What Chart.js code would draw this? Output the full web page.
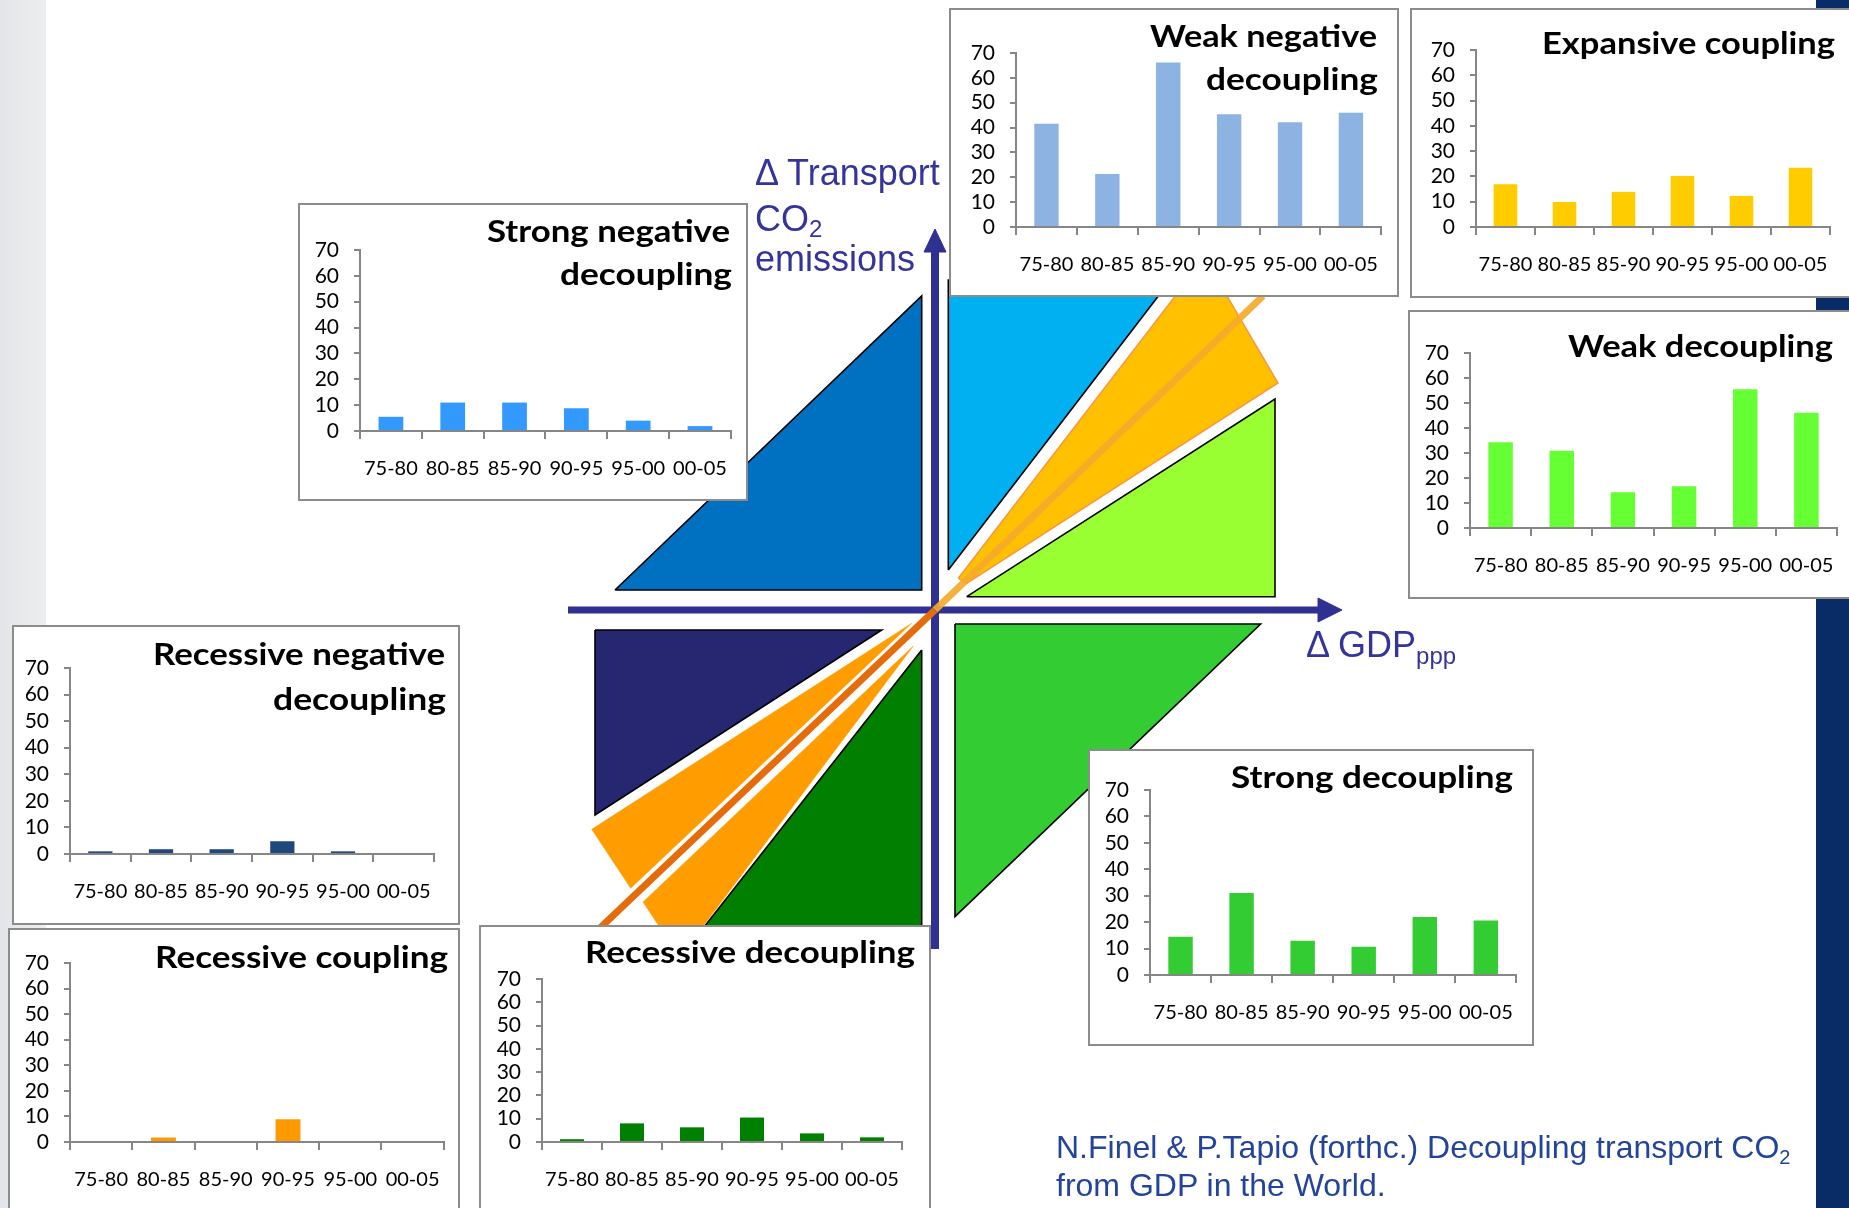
<!DOCTYPE html>
<html>
<head>
<meta charset="utf-8">
<title>Decoupling transport CO2 from GDP</title>
<script src="https://cdn.jsdelivr.net/npm/chart.js@4.4.1/dist/chart.umd.min.js"></script>
<style>
  html, body { margin: 0; padding: 0; }
  body { width: 1849px; height: 1208px; overflow: hidden; position: relative; background: #ffffff; }
  #leftStrip { position: absolute; left: 0; top: 0; width: 46px; height: 1208px; background: linear-gradient(90deg, #e3e5e8, #eceef0); }
  #rightBand { position: absolute; left: 1816px; top: 0; width: 33px; height: 1208px; background: #0a2c66; }
  #diagram { position: absolute; left: 560px; top: 220px; z-index: 1; }
  .panel { position: absolute; background: #ffffff; border: 2px solid #8c8c8c; box-sizing: border-box; z-index: 2; }
  .panel canvas { position: absolute; left: 0; top: 0; }
  #texts { position: absolute; left: 0; top: 0; z-index: 5; pointer-events: none; }
</style>
</head>
<body>
<div id="leftStrip"></div>
<div id="rightBand"></div>
<canvas id="diagram" width="800" height="740" style="width:800px;height:740px"></canvas>
<svg id="texts" width="1849" height="1208" xmlns="http://www.w3.org/2000/svg"></svg>

<script>
// ---- Share of countries per period in each decoupling class ----
const periods = ['75-80', '80-85', '85-90', '90-95', '95-00', '00-05'];
const strongNegativeDecoupling = [5.5, 11.0, 11.0, 8.8, 4.0, 1.9];
const weakNegativeDecoupling   = [41.5, 21.3, 66.2, 45.4, 42.1, 46.0];
const expansiveCoupling        = [16.9, 9.9, 13.9, 20.2, 12.3, 23.4];
const weakDecoupling           = [34.3, 30.9, 14.3, 16.7, 55.5, 46.1];
const recessiveNegativeDecoupling = [1.0, 1.8, 1.8, 4.8, 1.0, 0];
const recessiveCoupling        = [0, 1.8, 0, 8.9, 0, 0];
const recessiveDecoupling      = [1.2, 8.0, 6.3, 10.5, 3.7, 2.0];
const strongDecoupling         = [14.5, 31.0, 13.0, 10.7, 21.9, 20.6];
const shareAxisMax = 70;
const shareAxisStep = 10;

// ---- Decoupling map: regions in ΔGDP / ΔCO2 diagram units, origin where the axes cross ----
const regionStrongNegative   = [[-3.20, 0.20], [-0.133, 3.14], [-0.133, 0.20]];
const regionWeakNegative     = [[0.133, 0.40], [0.133, 3.30], [2.356, 3.30]];
const regionExpansive        = [[0.233, 0.317], [2.696, 3.521], [3.43, 2.27], [0.317, 0.267]];
const regionWeak             = [[0.317, 0.133], [3.40, 2.11], [3.40, 0.133]];
const regionStrong           = [[0.20, -0.14], [3.256, -0.14], [0.20, -3.067]];
const regionRecessiveNegative = [[-3.40, -0.20], [-0.533, -0.20], [-3.40, -2.05]];
const regionRecessive        = [[-0.133, -0.40], [-0.133, -3.40], [-2.49, -3.40]];
const regionRecessiveCouplingUpper = [[-0.233, -0.133], [-3.433, -2.193], [-3.043, -2.783]];
const regionRecessiveCouplingLower = [[-0.217, -0.36], [-2.92, -2.92], [-2.553, -3.475]];
const couplingLineGrowth   = [[0, 0], [3.28, 3.14]];
const couplingLineRecession = [[0, 0], [-3.35, -3.18]];
const gdpAxis   = [[-3.67, 0], [3.85, 0]];
const gdpArrow  = [[3.83, 0.12], [4.07, 0], [3.83, -0.12]];
const co2Axis   = [[0, -3.39], [0, 3.58]];
const co2Arrow  = [[-0.11, 3.58], [0, 3.81], [0.11, 3.58]];

Chart.defaults.font.family = 'Lato, "Liberation Sans", sans-serif';
Chart.defaults.color = '#000000';
Chart.defaults.animation = false;

// ---------- the decoupling map ----------
function toPts(list) { return list.map(([x, y]) => ({ x, y })); }
function polygon(list, fill, stroke, width) {
  return {
    data: toPts(list.concat([list[0]])),
    showLine: true, fill: 'shape', backgroundColor: fill,
    borderColor: stroke || fill, borderWidth: width || 0,
    borderJoinStyle: 'miter', pointRadius: 0, tension: 0
  };
}
function segment(list, color, width) {
  return { data: toPts(list), showLine: true, fill: false, borderColor: color,
           borderWidth: width, borderCapStyle: 'butt', pointRadius: 0, tension: 0 };
}

const AXIS_BLUE = '#2e3192';
const mapLayers = [
  polygon(regionStrongNegative, '#0070c0', '#000000', 1.6),
  polygon(regionWeakNegative, '#00b0f0', '#000000', 1.6),
  polygon(regionWeak, '#99ff33', '#000000', 1.6),
  polygon(regionStrong, '#33cc33', '#000000', 1.6),
  polygon(regionRecessiveNegative, '#262671', '#000000', 1.6),
  polygon(regionRecessive, '#007f00', '#000000', 1.6),
  polygon(regionExpansive, '#ffc000', '#f79646', 1.5),
  polygon(regionRecessiveCouplingUpper, '#ff9c00', '#ff9c00', 0.5),
  polygon(regionRecessiveCouplingLower, '#ff9c00', '#ff9c00', 0.5),
  segment(gdpAxis, AXIS_BLUE, 7),
  polygon(gdpArrow, AXIS_BLUE, AXIS_BLUE, 1),
  segment(co2Axis, AXIS_BLUE, 8),
  polygon(co2Arrow, AXIS_BLUE, AXIS_BLUE, 1),
  segment(couplingLineGrowth, 'rgba(244,170,45,0.92)', 7),
  segment(couplingLineRecession, '#e46c0a', 7)
];
// later layers are painted over earlier ones
mapLayers.forEach((d, i) => { d.order = mapLayers.length - i; });

new Chart(document.getElementById('diagram'), {
  type: 'scatter',
  data: { datasets: mapLayers },
  options: {
    responsive: false,
    animation: false,
    layout: { padding: 0 },
    plugins: { legend: { display: false }, tooltip: { enabled: false } },
    scales: {
      x: { type: 'linear', min: -3.75, max: 4.25, display: false },
      y: { type: 'linear', min: -3.5, max: 3.9, display: false }
    }
  }
});

// ---------- the eight class panels ----------
// box: [left, top, width, height]; plot: [axis left, top (70), right, bottom (0)]
const panels = [
  { values: strongNegativeDecoupling, color: '#3399ff', box: [298, 203, 450, 298], plot: [360, 250, 733, 431],
    title: [['Strong negative', 730, 241.7, 243], ['decoupling', 732, 285, 172]] },
  { values: weakNegativeDecoupling, color: '#8db3e2', box: [949, 8, 450, 289], plot: [1016, 53, 1383, 227],
    title: [['Weak negative', 1377, 46.7, 227], ['decoupling', 1378, 90, 172]] },
  { values: expansiveCoupling, color: '#ffcc00', box: [1410, 8, 460, 290], plot: [1476, 50, 1830, 227],
    title: [['Expansive coupling', 1835, 54, 293]] },
  { values: weakDecoupling, color: '#66ff33', box: [1408, 310, 460, 289], plot: [1470, 353, 1837, 528],
    title: [['Weak decoupling', 1833, 356.7, 265]] },
  { values: recessiveNegativeDecoupling, color: '#1f497d', box: [12, 625, 448, 300], plot: [70, 668, 434, 854],
    title: [['Recessive negative', 445, 665, 292], ['decoupling', 446, 710, 173]] },
  { values: recessiveCoupling, color: '#ff9900', box: [8, 928, 452, 300], plot: [70, 963, 452, 1142],
    title: [['Recessive coupling', 448, 968.3, 293]] },
  { values: recessiveDecoupling, color: '#008000', box: [479, 925, 452, 300], plot: [542, 979, 902, 1142],
    title: [['Recessive decoupling', 915, 962.7, 330]] },
  { values: strongDecoupling, color: '#33cc33', box: [1088, 749, 446, 297], plot: [1150, 790, 1517, 975],
    title: [['Strong decoupling', 1513, 788.3, 282]] }
];

const AXIS_GREY = '#868686';
const Y_AXIS_W = 50, X_AXIS_H = 50;

function buildPanel(p) {
  const [bx, by, bw, bh] = p.box;
  const div = document.createElement('div');
  div.className = 'panel';
  Object.assign(div.style, { left: bx + 'px', top: by + 'px', width: bw + 'px', height: bh + 'px' });
  const cw = bw - 4, ch = bh - 4;
  const cv = document.createElement('canvas');
  cv.width = cw; cv.height = ch;
  cv.style.width = cw + 'px'; cv.style.height = ch + 'px';
  div.appendChild(cv);
  document.body.appendChild(div);

  const ox = bx + 2, oy = by + 2;
  const [pl, pt, pr, pb] = p.plot;
  new Chart(cv, {
    type: 'bar',
    data: {
      labels: periods,
      datasets: [{ data: p.values, backgroundColor: p.color, barPercentage: 0.4, categoryPercentage: 1.0 }]
    },
    options: {
      responsive: false,
      animation: false,
      layout: { padding: { left: pl - ox - Y_AXIS_W, top: pt - oy, right: ox + cw - pr, bottom: oy + ch - pb - X_AXIS_H } },
      plugins: { legend: { display: false }, tooltip: { enabled: false } },
      scales: {
        x: {
          grid: { offset: true, drawOnChartArea: false, drawTicks: true, tickLength: 8, color: AXIS_GREY, lineWidth: 2 },
          border: { color: AXIS_GREY, width: 2 },
          ticks: { font: { size: 20 }, color: '#000000', padding: 18, maxRotation: 0, autoSkip: false },
          afterFit: s => { s.height = X_AXIS_H; }
        },
        y: {
          min: 0, max: shareAxisMax,
          grid: { drawOnChartArea: false, tickLength: 6, color: AXIS_GREY, lineWidth: 2 },
          border: { color: AXIS_GREY, width: 2 },
          ticks: { stepSize: shareAxisStep, font: { size: 21, lineHeight: 1 }, color: '#000000', padding: 15, autoSkip: false },
          afterFit: s => { s.width = Y_AXIS_W; }
        }
      }
    }
  });
}
panels.forEach(buildPanel);

// ---------- text layer ----------
const svg = document.getElementById('texts');
const NS = 'http://www.w3.org/2000/svg';
function addText(x, y, attrs, parts) {
  const t = document.createElementNS(NS, 'text');
  t.setAttribute('x', x); t.setAttribute('y', y);
  for (const k in attrs) t.setAttribute(k, attrs[k]);
  parts.forEach(part => {
    if (typeof part === 'string') { t.appendChild(document.createTextNode(part)); }
    else {
      const s = document.createElementNS(NS, 'tspan');
      for (const k in part.attrs) s.setAttribute(k, part.attrs[k]);
      s.textContent = part.text;
      t.appendChild(s);
    }
  });
  svg.appendChild(t);
  return t;
}

panels.forEach(p => {
  p.title.forEach(([txt, right, base, width]) => {
    addText(right - width, base, {
      'font-family': 'Lato, sans-serif', 'font-weight': '700', 'font-size': '31', fill: '#000000',
      textLength: width, lengthAdjust: 'spacingAndGlyphs'
    }, [txt]);
  });
});

const labelStyle = { 'font-family': '"Liberation Sans", Arial, sans-serif', 'font-size': '36', fill: '#34349a' };
addText(755, 185, labelStyle, ['Δ Transport']);
addText(755, 231, labelStyle, ['CO', { text: '2', attrs: { 'font-size': '24', dy: '6' } }]);
addText(755, 271, labelStyle, ['emissions']);
addText(1306, 657, labelStyle, ['Δ GDP', { text: 'ppp', attrs: { 'font-size': '24', dy: '7' } }]);

const citeStyle = { 'font-family': '"Liberation Sans", Arial, sans-serif', 'font-size': '32', fill: '#23449b' };
addText(1056, 1158, citeStyle, ['N.Finel & P.Tapio (forthc.) Decoupling transport CO', { text: '2', attrs: { 'font-size': '20', dy: '6' } }]);
addText(1056, 1196, citeStyle, ['from GDP in the World.']);
</script>
</body>
</html>
